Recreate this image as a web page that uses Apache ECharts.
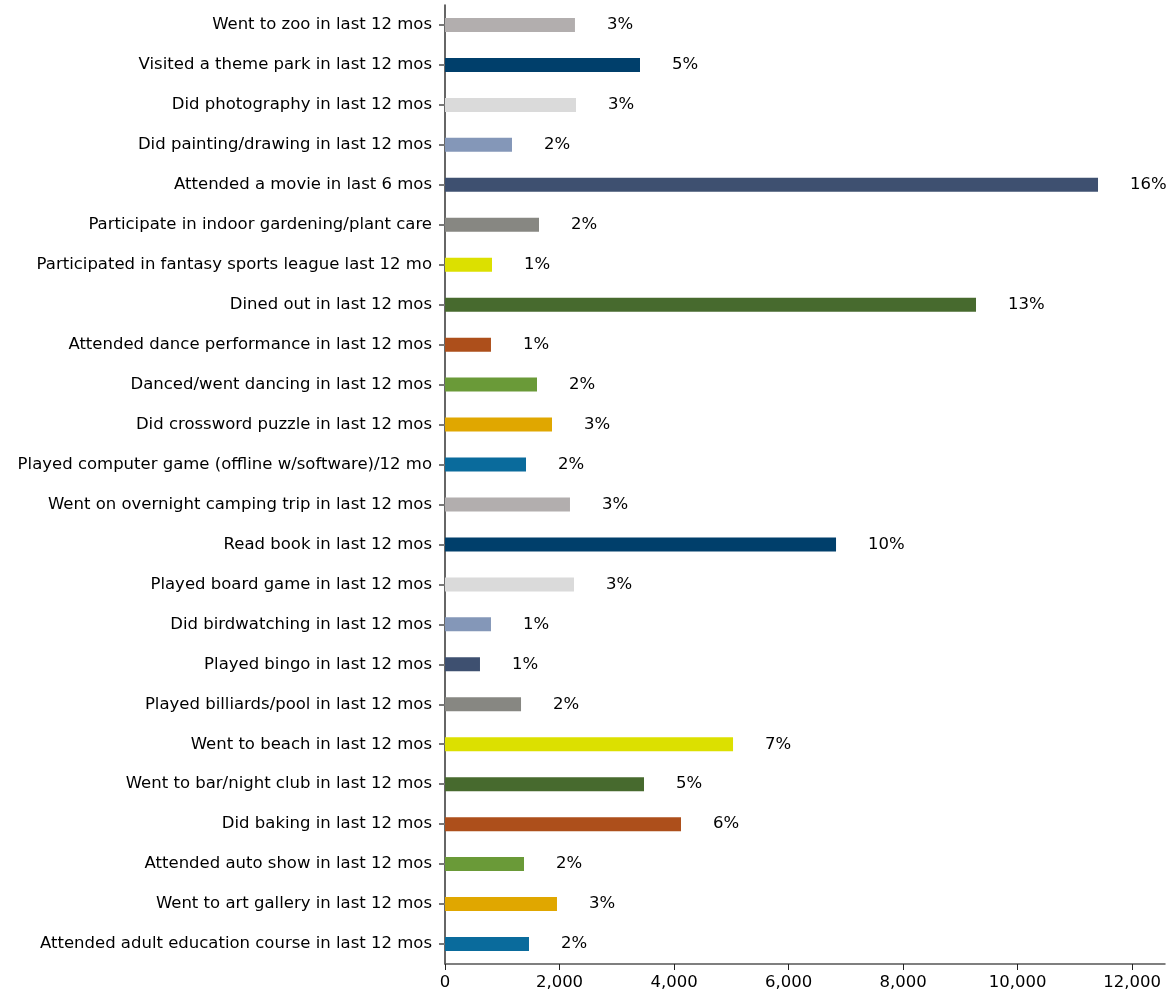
<!DOCTYPE html>
<html>
<head>
<meta charset="utf-8">
<script src="https://cdn.jsdelivr.net/npm/echarts@6/dist/echarts.min.js"></script>
<style>html,body{margin:0;padding:0;background:#fff}#c{width:1172px;height:992px}</style>
</head>
<body>
<div id="c"></div>
<script>
var categories = [
  "Went to zoo in last 12 mos",
  "Visited a theme park in last 12 mos",
  "Did photography in last 12 mos",
  "Did painting/drawing in last 12 mos",
  "Attended a movie in last 6 mos",
  "Participate in indoor gardening/plant care",
  "Participated in fantasy sports league last 12 mo",
  "Dined out in last 12 mos",
  "Attended dance performance in last 12 mos",
  "Danced/went dancing in last 12 mos",
  "Did crossword puzzle in last 12 mos",
  "Played computer game (offline w/software)/12 mo",
  "Went on overnight camping trip in last 12 mos",
  "Read book in last 12 mos",
  "Played board game in last 12 mos",
  "Did birdwatching in last 12 mos",
  "Played bingo in last 12 mos",
  "Played billiards/pool in last 12 mos",
  "Went to beach in last 12 mos",
  "Went to bar/night club in last 12 mos",
  "Did baking in last 12 mos",
  "Attended auto show in last 12 mos",
  "Went to art gallery in last 12 mos",
  "Attended adult education course in last 12 mos"
];
var values = [2270, 3406, 2288, 1170, 11406, 1642, 821, 9275, 803, 1607, 1869, 1415,
              2183, 6830, 2253, 803, 611, 1328, 5031, 3476, 4122, 1380, 1956, 1467];
var pctLabels = ["3%", "5%", "3%", "2%", "16%", "2%", "1%", "13%", "1%", "2%", "3%", "2%",
                 "3%", "10%", "3%", "1%", "1%", "2%", "7%", "5%", "6%", "2%", "3%", "2%"];
var xTicks = [0, 2000, 4000, 6000, 8000, 10000, 12000];
// palette cycles from the bottom bar upward
var palette = ["#0a6b9c", "#e0a700", "#6a9a38", "#ad4f1b", "#476a2e", "#dce000",
               "#878782", "#3e5070", "#8497b8", "#dadada", "#003f6b", "#b2aeae"];

var n = categories.length;
var data = values.map(function (v, i) {
  return { value: v, itemStyle: { color: palette[(n - 1 - i) % palette.length] } };
});

var FONT = "DejaVu Sans";
var FS = 16.5;
var chart = echarts.init(document.getElementById('c'), null, { renderer: 'canvas' });
chart.setOption({
  animation: false,
  backgroundColor: '#ffffff',
  grid: { left: 445, right: 7, top: 5, bottom: 28, containLabel: false },
  xAxis: {
    type: 'value',
    min: 0,
    max: 12576,
    axisLine: { show: true, lineStyle: { color: '#555', width: 1.5 } },
    axisTick: { show: true, length: 6, lineStyle: { color: '#222' }, customValues: xTicks },
    axisLabel: {
      customValues: xTicks,
      color: '#000', fontFamily: FONT, fontSize: FS, margin: 10,
      formatter: function (v) { return v.toLocaleString('en-US'); }
    },
    splitLine: { show: false }
  },
  yAxis: {
    type: 'category',
    inverse: true,
    data: categories,
    axisLine: { show: true, lineStyle: { color: '#333', width: 1.5 } },
    axisTick: { show: true, alignWithLabel: true, length: 6, lineStyle: { color: '#777', width: 2 } },
    axisLabel: { color: '#000', fontFamily: FONT, fontSize: FS, margin: 13, interval: 0 }
  },
  series: [{
    type: 'bar',
    data: data,
    barWidth: 14,
    label: {
      show: true,
      position: 'right',
      distance: 32,
      color: '#000',
      fontFamily: FONT,
      fontSize: FS,
      formatter: function (p) { return pctLabels[p.dataIndex]; }
    }
  }]
});
</script>
</body>
</html>
